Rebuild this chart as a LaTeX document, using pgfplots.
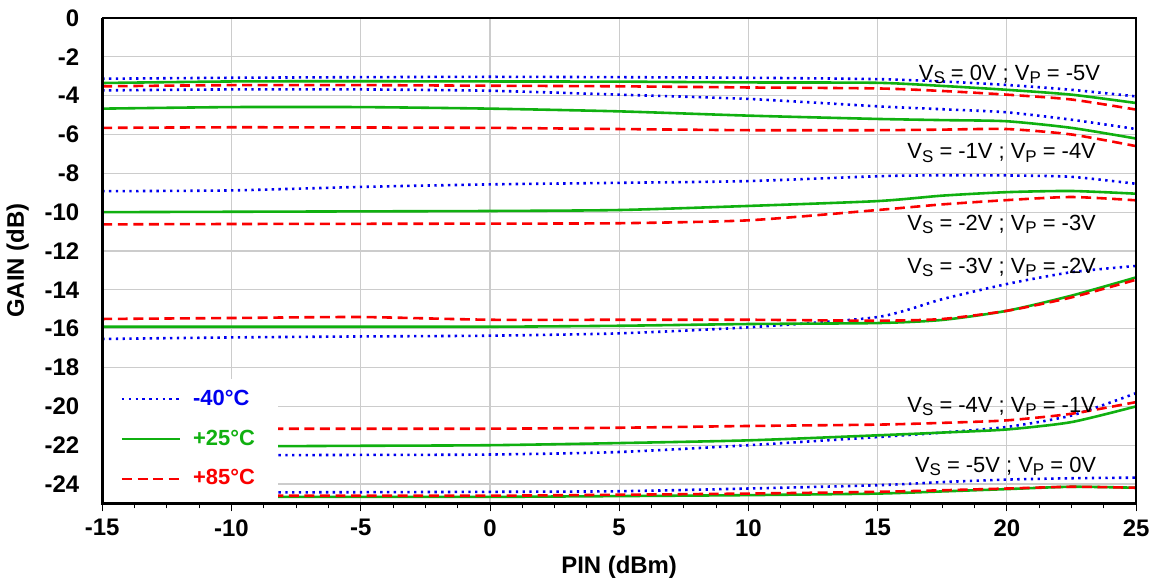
\documentclass[border=0pt]{standalone}
\usepackage{pgfplots}
\pgfplotsset{compat=1.18}
\usepackage{fontspec}
\setmainfont{Liberation Sans}
\definecolor{cblue}{RGB}{0,0,240}
\definecolor{cgreen}{RGB}{16,176,16}
\definecolor{cred}{RGB}{250,0,0}
\newcommand{\lab}[2]{V\raisebox{-0.3ex}{\fontsize{8.5}{9}\selectfont S} = #1 ; V\raisebox{-0.3ex}{\fontsize{8.5}{9}\selectfont P} = #2}
\begin{document}
\begin{tikzpicture}
\begin{axis}[
  scale only axis, width=518.5pt, height=243.5pt,
  xmin=-15, xmax=25, ymin=-25, ymax=0,
  xtick={-15,-10,...,25}, ytick={-24,-22,...,0},
  minor x tick num=3,
  xtick pos=bottom, ytick pos=left,
  tick align=outside,
  major tick length=4pt, minor tick length=2.5pt,
  y tick style={draw=none},
  x tick style={black, line width=0.4pt},
  grid=major, major grid style={gray!40, line width=0.6pt},
  axis line style={draw=none},
  /pgf/number format/assume math mode=true,
  tick label style={font=\fontsize{12}{14}\selectfont\bfseries},
  xticklabel style={yshift=-0.5pt},
  yticklabel style={xshift=-4pt},
  xlabel={PIN (dBm)}, ylabel={GAIN (dB)},
  label style={font=\fontsize{12}{14}\selectfont\bfseries},
  xlabel style={yshift=-3pt},
  ylabel style={yshift=1pt},
  every axis plot/.append style={smooth, tension=0.4, line width=1.3pt},
  legend style={draw=none, fill=none, at={(axis cs:-14.3,-18.89)}, anchor=north west,
     font=\fontsize{11}{13}\selectfont\bfseries, row sep=6pt, column sep=4pt, inner sep=0pt,
     nodes={text height=8pt, text depth=2pt, inner sep=2pt}},
  legend cell align=left,
  legend image code/.code={\draw[#1] (0pt,0pt) -- (29pt,0pt);},
]
\pgfplotsset{
  b/.style={cblue, dash pattern=on 1.2pt off 2.2pt},
  g/.style={cgreen},
  r/.style={cred, dash pattern=on 5pt off 2.8pt},
}
% group 1
\addplot[b] coordinates {(-15,-3.13) (-10,-3.08) (-5,-3.05) (0,-3.03) (5,-3.05) (10,-3.08) (15,-3.15) (17.5,-3.27) (20,-3.45) (22.5,-3.7) (25,-4.04)};
\addplot[g] coordinates {(-15,-3.35) (-10,-3.27) (-5,-3.26) (0,-3.27) (5,-3.28) (10,-3.32) (15,-3.34) (17.5,-3.5) (20,-3.7) (22.5,-3.95) (25,-4.38)};
\addplot[r] coordinates {(-15,-3.52) (-10,-3.46) (-5,-3.46) (0,-3.49) (5,-3.52) (10,-3.58) (15,-3.63) (17.5,-3.76) (20,-3.95) (22.5,-4.2) (25,-4.72)};
% group 2
\addplot[b] coordinates {(-15,-3.73) (-10,-3.68) (-5,-3.68) (0,-3.75) (5,-3.95) (10,-4.17) (15,-4.55) (17.5,-4.7) (20,-4.86) (22.5,-5.24) (25,-5.72)};
\addplot[g] coordinates {(-15,-4.67) (-10,-4.59) (-5,-4.59) (0,-4.67) (5,-4.81) (10,-5.03) (15,-5.2) (17.5,-5.26) (20,-5.32) (22.5,-5.66) (25,-6.21)};
\addplot[r] coordinates {(-15,-5.66) (-10,-5.63) (-5,-5.64) (0,-5.66) (5,-5.72) (10,-5.78) (15,-5.78) (17.5,-5.75) (20,-5.72) (22.5,-6.0) (25,-6.6)};
% group 3
\addplot[b] coordinates {(-15,-8.92) (-10,-8.88) (-5,-8.7) (0,-8.57) (5,-8.49) (10,-8.4) (15,-8.15) (17.5,-8.1) (20,-8.11) (22.5,-8.18) (25,-8.54)};
\addplot[g] coordinates {(-15,-10.0) (-10,-9.98) (-5,-9.96) (0,-9.94) (5,-9.89) (10,-9.68) (15,-9.43) (17.5,-9.15) (20,-8.97) (22.5,-8.91) (25,-9.05)};
\addplot[r] coordinates {(-15,-10.63) (-10,-10.61) (-5,-10.6) (0,-10.59) (5,-10.57) (10,-10.42) (15,-9.89) (17.5,-9.6) (20,-9.38) (22.5,-9.22) (25,-9.39)};
% group 4
\addplot[b] coordinates {(-15,-16.53) (-10,-16.45) (-5,-16.4) (0,-16.36) (5,-16.24) (10,-15.93) (15,-15.4) (17.5,-14.48) (20,-13.7) (22.5,-13.09) (25,-12.77)};
\addplot[g] coordinates {(-15,-15.9) (-10,-15.9) (-5,-15.9) (0,-15.9) (5,-15.85) (10,-15.76) (15,-15.71) (17.5,-15.55) (20,-15.08) (22.5,-14.3) (25,-13.36)};
\addplot[r] coordinates {(-15,-15.5) (-10,-15.45) (-5,-15.4) (0,-15.54) (5,-15.54) (10,-15.54) (15,-15.59) (17.5,-15.5) (20,-15.08) (22.5,-14.39) (25,-13.48)};
% group 5
\addplot[b] coordinates {(-15,-22.55) (-10,-22.52) (-5,-22.5) (0,-22.48) (5,-22.35) (10,-22.0) (15,-21.58) (17.5,-21.35) (20,-21.06) (22.5,-20.47) (25,-19.32)};
\addplot[g] coordinates {(-15,-22.08) (-10,-22.06) (-5,-22.03) (0,-22.0) (5,-21.89) (10,-21.75) (15,-21.49) (17.5,-21.35) (20,-21.19) (22.5,-20.81) (25,-20.0)};
\addplot[r] coordinates {(-15,-21.15) (-10,-21.15) (-5,-21.15) (0,-21.15) (5,-21.1) (10,-21.01) (15,-20.94) (17.5,-20.85) (20,-20.72) (22.5,-20.38) (25,-19.78)};
% group 6
\addplot[b] coordinates {(-15,-24.43) (-10,-24.43) (-5,-24.42) (0,-24.4) (5,-24.37) (10,-24.23) (15,-24.06) (17.5,-23.9) (20,-23.77) (22.5,-23.7) (25,-23.67)};
\addplot[g] coordinates {(-15,-24.66) (-10,-24.66) (-5,-24.66) (0,-24.66) (5,-24.62) (10,-24.57) (15,-24.49) (17.5,-24.38) (20,-24.26) (22.5,-24.14) (25,-24.19)};
\addplot[r] coordinates {(-15,-24.57) (-10,-24.6) (-5,-24.6) (0,-24.6) (5,-24.55) (10,-24.49) (15,-24.4) (17.5,-24.32) (20,-24.23) (22.5,-24.14) (25,-24.19)};
\fill[white] (axis cs:-14.93,-18.6) rectangle (axis cs:-8.2,-24.95);
\legend{\textcolor{cblue}{-40°C},\textcolor{cgreen}{+25°C},\textcolor{cred}{+85°C}}
\begin{scope}[font=\fontsize{11}{13}\selectfont]
\node at (axis cs:20.1,-2.9) {\lab{0V}{-5V}};
\node at (axis cs:19.8,-6.95) {\lab{-1V}{-4V}};
\node at (axis cs:19.8,-10.62) {\lab{-2V}{-3V}};
\node at (axis cs:19.8,-12.85) {\lab{-3V}{-2V}};
\node at (axis cs:19.8,-20.0) {\lab{-4V}{-1V}};
\node at (axis cs:19.95,-23.1) {\lab{-5V}{0V}};
\end{scope}
\end{axis}
\draw[line width=0.6pt] (current axis.north west) -- (current axis.north east) -- (current axis.south east);
\draw[line width=1.6pt] (current axis.north west) -- (current axis.south west) -- (current axis.south east);
\path (current axis.south west) ++(-49.5pt,-38.5pt) coordinate (bl);
\path (current axis.north east) ++(12pt,9pt) coordinate (tr);
\path (bl) rectangle (tr);
\end{tikzpicture}
\end{document}
